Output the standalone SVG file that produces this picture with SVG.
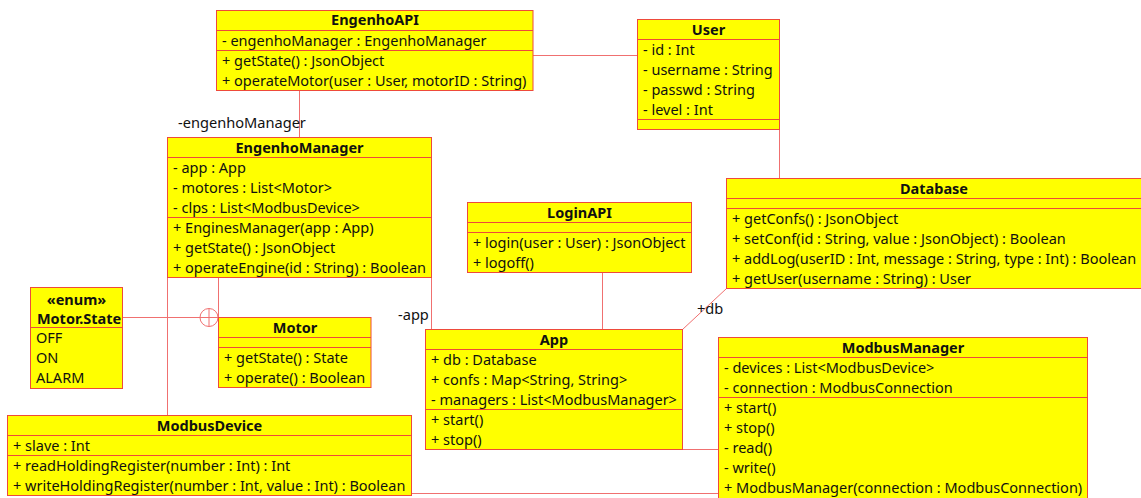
<svg xmlns="http://www.w3.org/2000/svg" width="1141" height="498" viewBox="0 0 1141 498">
<style>
.box{fill:#ffff00;stroke:#ee4a3a;stroke-width:1}
.sep{stroke:#ee4a3a;stroke-width:1}
.con{fill:none;stroke:#f07070;stroke-width:1}
text{font-family:"Noto Sans","DejaVu Sans",sans-serif;font-size:14.5px;fill:#111}
.t{font-weight:bold;text-anchor:middle}
.lbl{font-size:14.6px}
</style>
<defs>
<clipPath id="clipEnum"><rect x="30.5" y="287.5" width="92" height="101"/></clipPath>
</defs>
<rect width="1141" height="498" fill="#ffffff"/>
<g id="connectors">
<path class="con" d="M533,55.5 H637.5"/>
<path class="con" d="M779.5,129.5 V178.5"/>
<path class="con" d="M299.5,90.5 V137.5"/>
<path class="con" d="M431.5,277.5 V329.5"/>
<path class="con" d="M218.5,277.5 V317.5"/>
<path class="con" d="M167.5,277.5 V415.5"/>
<path class="con" d="M122.5,317.5 H218.5"/>
<circle class="con" cx="209" cy="317.5" r="9"/>
<path class="con" d="M209,308.5 V326.5"/>
<path class="con" d="M602.5,272.5 V329.5"/>
<path class="con" d="M682.5,329.5 L726.5,288.5"/>
<path class="con" d="M682.5,449.5 H718.5"/>
<path class="con" d="M411.5,493.5 H718.5"/>
<text class="lbl" x="178" y="128">-engenhoManager</text>
<text class="lbl" x="398" y="320">-app</text>
<text class="lbl" x="697" y="314">+db</text>
</g>
<g id="EngenhoAPI">
<rect class="box" x="216.5" y="10.5" width="316.5" height="80"/>
<line class="sep" x1="216.5" y1="30.5" x2="533" y2="30.5"/>
<line class="sep" x1="216.5" y1="50.5" x2="533" y2="50.5"/>
<text class="t" x="375" y="25">EngenhoAPI</text>
<text x="222" y="46">- engenhoManager : EngenhoManager</text>
<text x="222" y="66">+ getState() : JsonObject</text>
<text x="222" y="86">+ operateMotor(user : User, motorID : String)</text>
</g>
<g id="User">
<rect class="box" x="637.5" y="19.5" width="142" height="110"/>
<line class="sep" x1="637.5" y1="39.5" x2="779.5" y2="39.5"/>
<line class="sep" x1="637.5" y1="119.5" x2="779.5" y2="119.5"/>
<text class="t" x="708.5" y="34.5">User</text>
<text x="643" y="55">- id : Int</text>
<text x="643" y="75">- username : String</text>
<text x="643" y="95">- passwd : String</text>
<text x="643" y="115">- level : Int</text>
</g>
<g id="Database">
<rect class="box" x="726.5" y="178.5" width="415" height="110"/>
<line class="sep" x1="726.5" y1="198.5" x2="1141.5" y2="198.5"/>
<line class="sep" x1="726.5" y1="208.5" x2="1141.5" y2="208.5"/>
<text class="t" x="934" y="194">Database</text>
<text x="732" y="224">+ getConfs() : JsonObject</text>
<text x="732" y="244">+ setConf(id : String, value : JsonObject) : Boolean</text>
<text x="732" y="264">+ addLog(userID : Int, message : String, type : Int) : Boolean</text>
<text x="732" y="284">+ getUser(username : String) : User</text>
</g>
<g id="EngenhoManager">
<rect class="box" x="167.5" y="137.5" width="264" height="140"/>
<line class="sep" x1="167.5" y1="157.5" x2="431.5" y2="157.5"/>
<line class="sep" x1="167.5" y1="217.5" x2="431.5" y2="217.5"/>
<text class="t" x="299.5" y="153">EngenhoManager</text>
<text x="173" y="173">- app : App</text>
<text x="173" y="193">- motores : List&lt;Motor&gt;</text>
<text x="173" y="213">- clps : List&lt;ModbusDevice&gt;</text>
<text x="173" y="233">+ EnginesManager(app : App)</text>
<text x="173" y="253">+ getState() : JsonObject</text>
<text x="173" y="273">+ operateEngine(id : String) : Boolean</text>
</g>
<g id="LoginAPI">
<rect class="box" x="467.5" y="202.5" width="224" height="70"/>
<line class="sep" x1="467.5" y1="222.5" x2="691.5" y2="222.5"/>
<line class="sep" x1="467.5" y1="232.5" x2="691.5" y2="232.5"/>
<text class="t" x="579.5" y="218">LoginAPI</text>
<text x="473" y="248">+ login(user : User) : JsonObject</text>
<text x="473" y="268">+ logoff()</text>
</g>
<g id="App">
<rect class="box" x="425.5" y="329.5" width="257" height="120"/>
<line class="sep" x1="425.5" y1="349.5" x2="682.5" y2="349.5"/>
<line class="sep" x1="425.5" y1="409.5" x2="682.5" y2="409.5"/>
<text class="t" x="554" y="345">App</text>
<text x="431" y="365">+ db : Database</text>
<text x="431" y="385">+ confs : Map&lt;String, String&gt;</text>
<text x="431" y="405">- managers : List&lt;ModbusManager&gt;</text>
<text x="431" y="425">+ start()</text>
<text x="431" y="445">+ stop()</text>
</g>
<g id="MotorState">
<rect class="box" x="30.5" y="287.5" width="92" height="101"/>
<line class="sep" x1="30.5" y1="327.5" x2="122.5" y2="327.5"/>
<g clip-path="url(#clipEnum)">
<text class="t" x="76.5" y="305">«enum»</text>
<text class="t" x="79" y="324">Motor.State</text>
</g>
<text x="36" y="343">OFF</text>
<text x="36" y="363">ON</text>
<text x="36" y="383">ALARM</text>
</g>
<g id="Motor">
<rect class="box" x="218.5" y="317.5" width="152.5" height="70"/>
<line class="sep" x1="218.5" y1="337.5" x2="371" y2="337.5"/>
<line class="sep" x1="218.5" y1="347.5" x2="371" y2="347.5"/>
<text class="t" x="295" y="333">Motor</text>
<text x="224" y="363">+ getState() : State</text>
<text x="224" y="383">+ operate() : Boolean</text>
</g>
<g id="ModbusDevice">
<rect class="box" x="7.5" y="415.5" width="404" height="80"/>
<line class="sep" x1="7.5" y1="435.5" x2="411.5" y2="435.5"/>
<line class="sep" x1="7.5" y1="455.5" x2="411.5" y2="455.5"/>
<text class="t" x="209.5" y="431">ModbusDevice</text>
<text x="13" y="451">+ slave : Int</text>
<text x="13" y="471">+ readHoldingRegister(number : Int) : Int</text>
<text x="13" y="491">+ writeHoldingRegister(number : Int, value : Int) : Boolean</text>
</g>
<g id="ModbusManager">
<rect class="box" x="718.5" y="337.5" width="369" height="170"/>
<line class="sep" x1="718.5" y1="357.5" x2="1087.5" y2="357.5"/>
<line class="sep" x1="718.5" y1="397.5" x2="1087.5" y2="397.5"/>
<text class="t" x="903" y="353">ModbusManager</text>
<text x="724" y="373">- devices : List&lt;ModbusDevice&gt;</text>
<text x="724" y="393">- connection : ModbusConnection</text>
<text x="724" y="413">+ start()</text>
<text x="724" y="433">+ stop()</text>
<text x="724" y="453">- read()</text>
<text x="724" y="473">- write()</text>
<text x="724" y="493">+ ModbusManager(connection : ModbusConnection)</text>
</g>
</svg>
